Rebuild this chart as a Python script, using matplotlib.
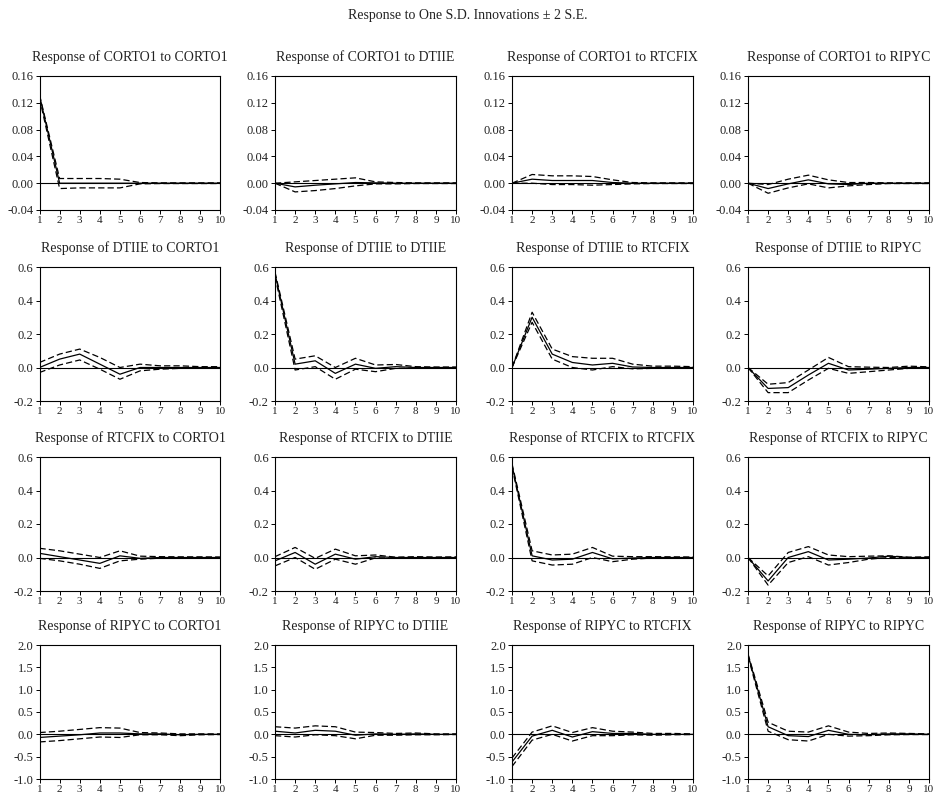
import matplotlib
matplotlib.use("Agg")
import matplotlib.pyplot as plt
from matplotlib.ticker import FormatStrFormatter

plt.rcParams["font.family"] = ["Liberation Serif", "DejaVu Serif"]
plt.rcParams["axes.unicode_minus"] = False

# ---------------------------------------------------------------------------
# Data: impulse responses (horizon 1..10), rows = responding variable,
# columns = shocked variable (CORTO1, DTIIE, RTCFIX, RIPYC)
# ---------------------------------------------------------------------------
variables = ["CORTO1", "DTIIE", "RTCFIX", "RIPYC"]
horizon = [1, 2, 3, 4, 5, 6, 7, 8, 9, 10]

corto1_resp = [
    [0.131, 0.000, 0.000, 0.000, 0.000, 0.000, 0.000, 0.000, 0.000, 0.000],
    [0.000, -0.0055, -0.003, -0.001, 0.001, 0.0005, 0.000, 0.000, 0.000, 0.000],
    [0.000, 0.006, 0.004, 0.004, 0.004, 0.001, 0.000, 0.000, 0.000, 0.000],
    [0.000, -0.008, -0.001, 0.005, -0.001, -0.002, 0.000, 0.000, 0.000, 0.000],
]
corto1_upper = [
    [0.132, 0.007, 0.007, 0.007, 0.006, 0.001, 0.0005, 0.0005, 0.0005, 0.0005],
    [0.000, 0.002, 0.004, 0.006, 0.008, 0.002, 0.001, 0.0005, 0.0005, 0.0005],
    [0.000, 0.013, 0.011, 0.011, 0.010, 0.005, 0.001, 0.0005, 0.0005, 0.0005],
    [0.000, -0.002, 0.006, 0.012, 0.005, 0.001, 0.001, 0.0005, 0.0005, 0.0005],
]
corto1_lower = [
    [0.127, -0.008, -0.007, -0.007, -0.007, -0.001, -0.0005, -0.0005, -0.0005, -0.0005],
    [0.000, -0.013, -0.011, -0.008, -0.004, -0.001, -0.001, -0.0005, -0.0005, -0.0005],
    [0.000, 0.000, -0.002, -0.002, -0.003, -0.002, -0.001, -0.0005, -0.0005, -0.0005],
    [0.000, -0.015, -0.007, -0.001, -0.007, -0.004, -0.002, -0.0005, -0.0005, -0.0005],
]

dtiie_resp = [
    [0.000, 0.050, 0.080, 0.020, -0.040, 0.000, 0.000, 0.000, 0.000, 0.000],
    [0.560, 0.020, 0.040, -0.035, 0.020, -0.005, 0.005, 0.000, 0.000, 0.000],
    [0.000, 0.300, 0.080, 0.030, 0.015, 0.025, 0.003, 0.000, 0.000, 0.000],
    [0.000, -0.125, -0.120, -0.045, 0.025, -0.015, -0.010, -0.005, 0.000, 0.000],
]
dtiie_upper = [
    [0.030, 0.080, 0.110, 0.060, 0.000, 0.020, 0.010, 0.010, 0.005, 0.005],
    [0.570, 0.050, 0.070, 0.000, 0.055, 0.015, 0.018, 0.005, 0.003, 0.003],
    [0.000, 0.330, 0.110, 0.065, 0.055, 0.055, 0.020, 0.008, 0.008, 0.005],
    [0.000, -0.100, -0.090, -0.015, 0.060, 0.005, 0.002, 0.000, 0.008, 0.004],
]
dtiie_lower = [
    [-0.030, 0.015, 0.045, -0.010, -0.070, -0.020, -0.010, -0.005, -0.005, -0.003],
    [0.545, -0.015, 0.005, -0.070, -0.010, -0.025, -0.005, -0.005, -0.005, -0.003],
    [0.000, 0.270, 0.050, 0.000, -0.015, 0.005, -0.008, -0.005, -0.004, -0.003],
    [0.000, -0.150, -0.150, -0.075, -0.005, -0.035, -0.025, -0.015, -0.005, -0.003],
]

rtcfix_resp = [
    [0.025, 0.005, -0.015, -0.035, 0.010, -0.005, 0.000, 0.000, 0.000, 0.000],
    [-0.020, 0.030, -0.040, 0.020, -0.010, 0.005, 0.000, 0.000, 0.000, 0.000],
    [0.550, 0.010, -0.015, -0.010, 0.030, -0.008, -0.003, 0.000, 0.000, 0.000],
    [0.000, -0.140, 0.000, 0.035, -0.015, -0.010, -0.003, 0.008, 0.000, 0.000],
]
rtcfix_upper = [
    [0.055, 0.040, 0.020, 0.000, 0.040, 0.008, 0.005, 0.004, 0.004, 0.003],
    [0.005, 0.060, -0.005, 0.050, 0.010, 0.015, 0.002, 0.005, 0.003, 0.004],
    [0.560, 0.040, 0.015, 0.020, 0.060, 0.008, 0.005, 0.005, 0.004, 0.003],
    [0.000, -0.110, 0.030, 0.065, 0.015, 0.005, 0.008, 0.010, 0.002, 0.004],
]
rtcfix_lower = [
    [-0.005, -0.020, -0.040, -0.065, -0.020, -0.010, -0.004, -0.003, -0.002, -0.002],
    [-0.050, 0.000, -0.070, -0.010, -0.040, -0.002, -0.005, -0.002, -0.002, -0.002],
    [0.540, -0.020, -0.045, -0.040, 0.000, -0.025, -0.010, -0.003, -0.003, -0.002],
    [0.000, -0.165, -0.030, 0.005, -0.045, -0.030, -0.010, 0.000, -0.003, -0.002],
]

ripyc_resp = [
    [-0.070, -0.040, -0.010, 0.030, 0.030, 0.010, 0.010, -0.010, 0.000, 0.000],
    [0.070, 0.030, 0.090, 0.070, -0.020, 0.010, 0.000, 0.010, 0.000, 0.000],
    [-0.620, -0.040, 0.090, -0.060, 0.060, 0.020, 0.020, 0.000, 0.000, 0.000],
    [1.780, 0.170, -0.030, -0.050, 0.090, 0.000, -0.010, 0.010, 0.010, 0.000],
]
ripyc_upper = [
    [0.040, 0.070, 0.110, 0.150, 0.140, 0.040, 0.030, 0.010, 0.010, 0.010],
    [0.170, 0.140, 0.190, 0.170, 0.050, 0.040, 0.020, 0.030, 0.010, 0.010],
    [-0.530, 0.050, 0.190, 0.040, 0.150, 0.070, 0.050, 0.020, 0.020, 0.010],
    [1.800, 0.270, 0.070, 0.050, 0.190, 0.050, 0.020, 0.030, 0.020, 0.010],
]
ripyc_lower = [
    [-0.170, -0.140, -0.100, -0.060, -0.070, -0.010, -0.010, -0.030, -0.010, -0.005],
    [-0.030, -0.060, -0.010, -0.030, -0.100, -0.020, -0.020, -0.010, -0.010, -0.005],
    [-0.720, -0.130, 0.000, -0.150, -0.030, -0.030, -0.010, -0.020, -0.010, -0.005],
    [1.750, 0.070, -0.120, -0.150, 0.000, -0.040, -0.030, -0.010, -0.005, -0.005],
]

responses = [corto1_resp, dtiie_resp, rtcfix_resp, ripyc_resp]
uppers = [corto1_upper, dtiie_upper, rtcfix_upper, ripyc_upper]
lowers = [corto1_lower, dtiie_lower, rtcfix_lower, ripyc_lower]

row_ylims = [(-0.04, 0.16), (-0.2, 0.6), (-0.2, 0.6), (-1.0, 2.0)]
row_yticks = [
    [-0.04, 0.00, 0.04, 0.08, 0.12, 0.16],
    [-0.2, 0.0, 0.2, 0.4, 0.6],
    [-0.2, 0.0, 0.2, 0.4, 0.6],
    [-1.0, -0.5, 0.0, 0.5, 1.0, 1.5, 2.0],
]
row_fmt = ["%.2f", "%.1f", "%.1f", "%.1f"]

# ---------------------------------------------------------------------------
# Layout (pixel positions of the axes frames in a 935x798 canvas)
# ---------------------------------------------------------------------------
W, H = 935, 798
col_left = [39.5, 275, 512, 748]
row_top = [76, 267, 457, 645]
ax_w, ax_h = 181, 134

fig = plt.figure(figsize=(W / 100, H / 100), dpi=100)
fig.patch.set_facecolor("white")

fig.text(0.5, 1 - 15 / H, "Response to One S.D. Innovations \u00b1 2 S.E.",
         ha="center", va="center", fontsize=10, color="#222222")

for i, resp_var in enumerate(variables):
    for j, shock_var in enumerate(variables):
        ax = fig.add_axes([col_left[j] / W, 1 - (row_top[i] + ax_h) / H,
                           ax_w / W, ax_h / H])
        ax.axhline(0, color="black", lw=0.8, zorder=1)
        ax.plot(horizon, responses[i][j], color="black", lw=0.9, zorder=3)
        for band in (uppers[i][j], lowers[i][j]):
            ax.plot(horizon, band, color="black", lw=0.9,
                    dashes=(5, 2.5), zorder=2)

        ax.set_xlim(1, 10)
        ax.set_ylim(*row_ylims[i])
        ax.set_xticks(horizon)
        ax.set_yticks(row_yticks[i])
        ax.yaxis.set_major_formatter(FormatStrFormatter(row_fmt[i]))
        ax.tick_params(direction="out", length=3, width=0.7,
                       labelsize=9, pad=1.5, colors="black",
                       labelcolor="#222222")
        ax.tick_params(axis="x", labelsize=8, pad=1)
        for sp in ax.spines.values():
            sp.set_linewidth(0.8)
        ax.set_title(f"Response of {resp_var} to {shock_var}",
                     fontsize=10, pad=11, color="#222222")

fig.savefig("out.png", dpi=100, facecolor="white")
